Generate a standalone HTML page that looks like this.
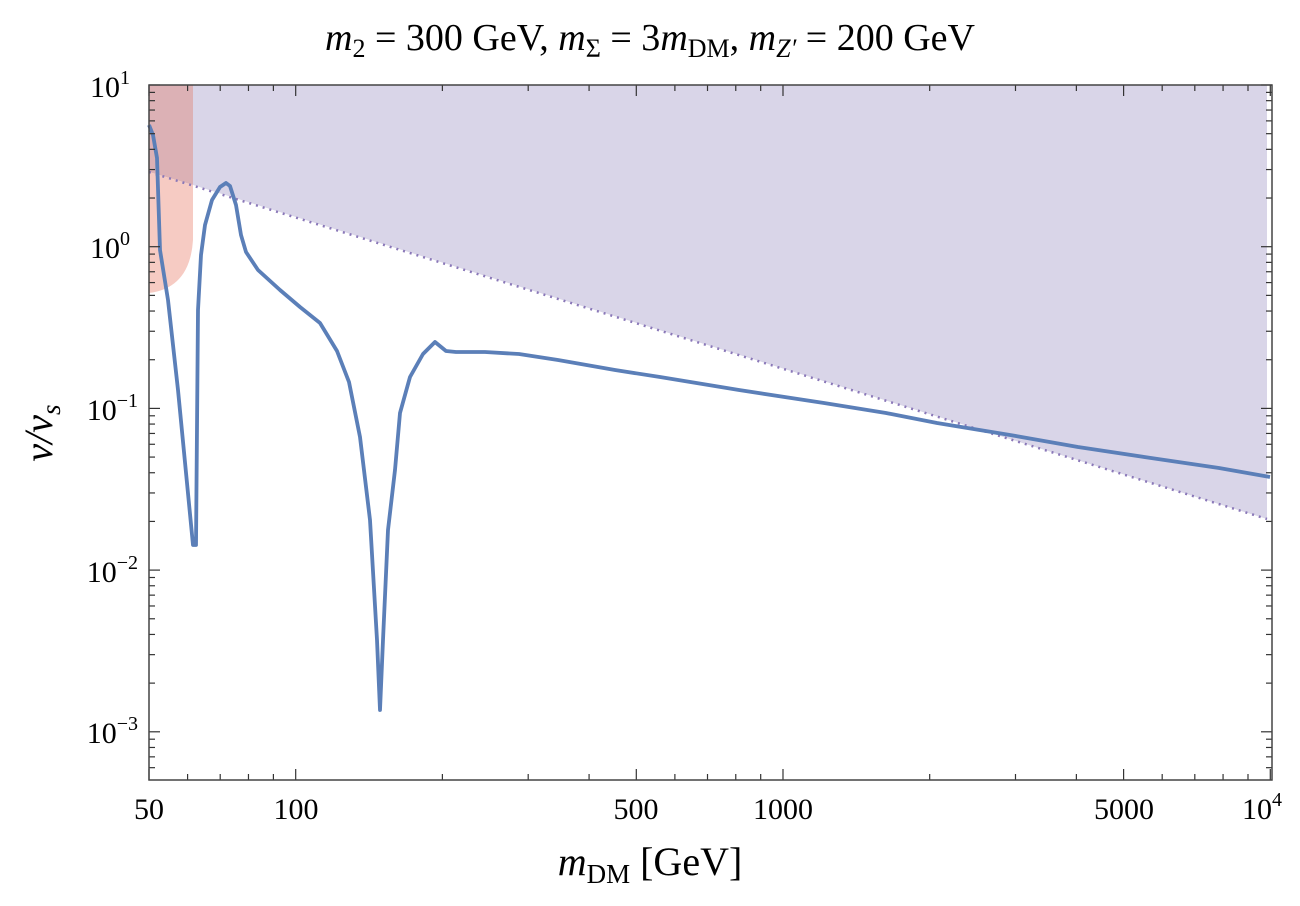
<!DOCTYPE html>
<html><head><meta charset="utf-8"><style>
body{margin:0;background:#fff;}
svg{display:block;font-family:"Liberation Serif",serif;}
</style></head><body>
<svg id="s" width="1300" height="906" viewBox="0 0 1300 906">
<rect width="1300" height="906" fill="#fff"/>
<polygon points="193,85 1267,85 1267,519 193,185" fill="#d9d5e8"/>
<polygon points="149,85 193,85 193,185 149,172" fill="#dcb1b5"/>
<path d="M149,172 L193,185 L193,240 Q190,288 149,293 Z" fill="#f6cbc3"/>
<line x1="149" y1="172" x2="1267" y2="519" stroke="#8a78b8" stroke-width="2.5" stroke-dasharray="2,5"/>
<polyline fill="none" stroke="#5b7fb8" stroke-width="3.8" stroke-linejoin="round" points="149,125 153,135 157,158 160,250 168,300 178,390 193,545 196,545 198,310 201,255 205,225 212,200 220,187 226,183 230,186 236,205 241,235 246,252 258,270 280,290 300,307 320,323 337,351 349,382 360,437 370,520 377,640 380,710 383,640 388,530 395,470 400,413 410,377 423,354 435,342 446,351 456,352 485,352 519,354 558,360 615,370 660,377 739,390 824,403 886,413 937,423 1010,435 1078,447 1151,458 1219,468 1270,477"/>
<g id="ticks" stroke="#333" stroke-width="1.2"></g>
<rect x="149" y="85" width="1123" height="695" fill="none" stroke="#444" stroke-width="1.5"/>
<g font-size="38" fill="#000">
<text x="650" y="50" text-anchor="middle" font-style="italic">m<tspan font-style="normal" font-size="26" dy="7">2</tspan><tspan font-style="normal" dy="-7"> = 300 GeV, </tspan>m<tspan font-style="normal" font-size="26" dy="7">Σ</tspan><tspan font-style="normal" dy="-7"> = 3</tspan>m<tspan font-style="normal" font-size="26" dy="7">DM</tspan><tspan font-style="normal" dy="-7">, </tspan>m<tspan font-size="26" dy="7">Z′</tspan><tspan font-style="normal" dy="-7"> = 200 GeV</tspan></text>
</g>
<g font-size="30" fill="#000" text-anchor="middle">
<text x="149" y="819">50</text>
<text x="296" y="819">100</text>
<text x="636" y="819">500</text>
<text x="783" y="819">1000</text>
<text x="1124" y="819">5000</text>
<text x="1262" y="819">10<tspan font-size="20" dy="-13">4</tspan></text>
</g>
<g font-size="30" fill="#000" text-anchor="end">
<text x="130" y="97">10<tspan font-size="20" dy="-13">1</tspan></text>
<text x="130" y="258">10<tspan font-size="20" dy="-13">0</tspan></text>
<text x="138" y="420">10<tspan font-size="20" dy="-13">−1</tspan></text>
<text x="138" y="582">10<tspan font-size="20" dy="-13">−2</tspan></text>
<text x="138" y="743">10<tspan font-size="20" dy="-13">−3</tspan></text>
</g>
<text x="650" y="875" font-size="40" text-anchor="middle"><tspan font-style="italic">m</tspan><tspan font-size="27" dy="8">DM</tspan><tspan dy="-8"> [GeV]</tspan></text>
<text transform="translate(52,433) rotate(-90)" font-size="40" text-anchor="middle" font-style="italic">v/v<tspan font-size="27" dy="8">s</tspan></text>
</svg>
<script>
var g=document.getElementById('ticks'),h='';
function X(v){return 149+487.3*Math.log10(v/50);}
function Y(v){return 246.7-161.7*Math.log10(v);}
function L(a,b,c,d){h+='<line x1="'+a+'" y1="'+b+'" x2="'+c+'" y2="'+d+'"/>';}
var xm=[50,100,500,1000,5000,10000];
for(var d=10;d<=10000;d*=10)for(var k=1;k<10;k++){var v=d*k;if(v<50||v>10000)continue;var x=X(v);var M=xm.indexOf(v)>=0;var len=M?11:6;L(x,780,x,780-len);L(x,85,x,85+len);}
for(var e=-4;e<=1;e++)for(var k=1;k<10;k++){var v=Math.pow(10,e)*k;var y=Y(v);if(y<85||y>780)continue;var len=k==1?11:6;L(149,y,149+len,y);L(1272,y,1272-len,y);}
g.innerHTML=h;
</script>
</body></html>
